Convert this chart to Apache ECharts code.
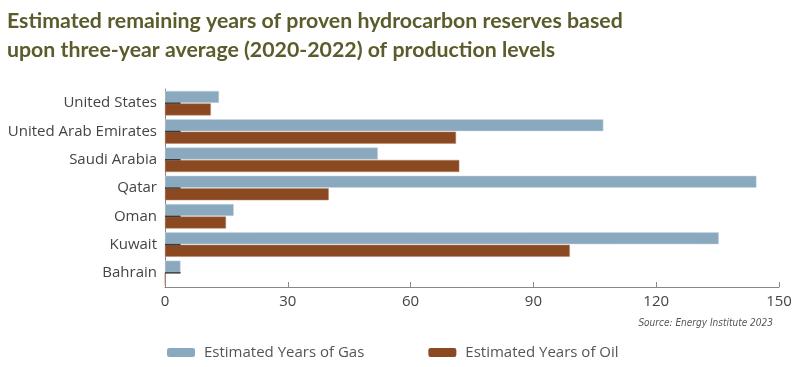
<!DOCTYPE html>
<html><head><meta charset="utf-8">
<script src="https://cdn.jsdelivr.net/npm/echarts@6/dist/echarts.min.js"></script>
<style>html,body{margin:0;padding:0;background:#fff}#c{width:800px;height:367px}</style>
</head><body><div id="c"></div>
<script>
const categories = ['United States','United Arab Emirates','Saudi Arabia','Qatar','Oman','Kuwait','Bahrain'];
const gasYears = [13.2, 107.1, 52.0, 144.5, 16.8, 135.3, 3.8];
const oilYears = [11.2, 71.1, 71.9, 40.0, 14.9, 98.9, 0];
const baseMarks = [3.8, 3.8, 3.8, 3.8, 3.8, 3.8, 3.8];
const xTicks = [0, 30, 60, 90, 120, 150];
const titleText = 'Estimated remaining years of proven hydrocarbon reserves based\nupon three-year average (2020-2022) of production levels';
const sourceText = 'Source: Energy Institute 2023';

const chart = echarts.init(document.getElementById('c'));
chart.setOption({
  animation: false,
  title: {
    text: titleText, left: 2, top: 2,
    textStyle: { fontFamily: 'Lato', fontWeight: 'bold', fontSize: 21.3, color: '#5c5b2b', lineHeight: 29 }
  },
  graphic: [{
    type: 'text', right: 27, top: 318,
    style: { text: sourceText, fontFamily: 'Liberation Sans Narrow, DejaVu Sans Condensed', fontStyle: 'italic', fontSize: 10, fill: '#555' }
  }],
  legend: {
    bottom: 2, left: 162, itemGap: 64, itemWidth: 28, itemHeight: 9,
    itemStyle: { borderWidth: 0 },
    textStyle: { fontFamily: 'Open Sans', fontSize: 15, color: '#555', padding: [0, 0, 0, 4] },
    data: ['Estimated Years of Gas', 'Estimated Years of Oil']
  },
  grid: { left: 165, right: 21, top: 89, bottom: 80, containLabel: false },
  xAxis: {
    type: 'value', min: xTicks[0], max: xTicks[xTicks.length - 1], interval: 30,
    axisLine: { show: true, lineStyle: { color: '#888', width: 1 } },
    axisTick: { show: true, inside: true, length: 5, lineStyle: { color: '#888' } },
    splitLine: { show: false },
    axisLabel: { fontFamily: 'Open Sans', fontSize: 15, color: '#444', margin: 7 }
  },
  yAxis: {
    type: 'category', data: categories, inverse: true,
    axisLine: { show: true, lineStyle: { color: '#888', width: 1 } },
    axisTick: { show: false },
    axisLabel: { fontFamily: 'Open Sans', fontSize: 15, color: '#444', margin: 8 }
  },
  series: [
    { name: 'Estimated Years of Gas', type: 'bar', data: gasYears, barWidth: 12, barGap: '4%',
      itemStyle: { color: '#8aa9bf', borderColor: '#c9d8e4', borderWidth: 0.5 } },
    { name: 'Estimated Years of Oil', type: 'bar', data: oilYears, barWidth: 12,
      itemStyle: { color: '#8b4922', borderColor: '#b8846a', borderWidth: 0.5 } },
    { name: 'base', type: 'custom', data: baseMarks.map((v, i) => [v, i]), z: 5,
      encode: { x: 0, y: 1 },
      renderItem: function (params, api) {
        const p1 = api.coord([0, api.value(1)]);
        const p2 = api.coord([api.value(0), api.value(1)]);
        return { type: 'line', shape: { x1: p1[0], y1: p1[1], x2: p2[0], y2: p2[1] },
          style: { stroke: '#3a3a3a', lineWidth: 1.5 } };
      } }
  ]
});
</script></body></html>
